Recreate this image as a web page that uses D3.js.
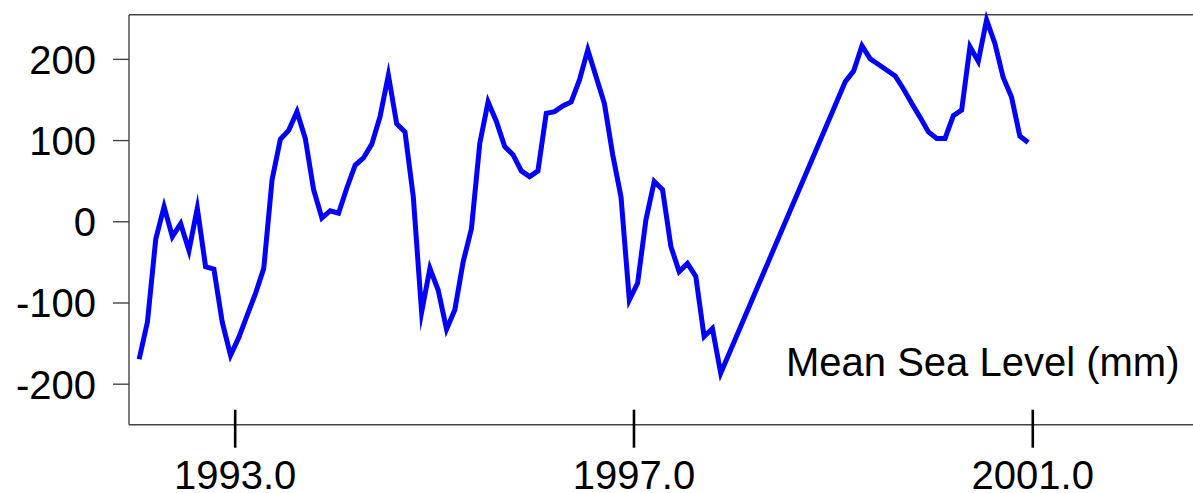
<!DOCTYPE html>
<html>
<head>
<meta charset="utf-8">
<script src="https://cdn.jsdelivr.net/npm/d3@7"></script>
<style>
  html, body { margin: 0; padding: 0; background: #fff; overflow: hidden; }
  svg { display: block; font-family: "Liberation Sans", Arial, sans-serif; }
</style>
</head>
<body>
<svg id="chart" width="1193" height="493"></svg>
<script>
// Month index (0 = Jan 1992) and mean sea level values (mm)
const monthIndex = [
  0,1,2,3,4,5,6,7,8,9,10,11,12,13,14,15,16,17,18,19,20,21,22,23,24,25,26,27,28,29,
  30,31,32,33,34,35,36,37,38,39,40,41,42,43,44,45,46,47,48,49,50,51,52,53,54,55,56,57,58,59,
  60,61,62,63,64,65,66,67,68,69,70,
  85,86,87,88,89,90,91,92,93,94,95,96,97,98,99,100,101,102,103,104,105,106,107
];
const seaLevel = [
  -170,-124,-22,18,-19,-3,-36,16,-56,-59,-124,-165,-143,-116,-89,-58,51,101,112,135,
  102,39,4,13,10,41,69,78,95,129,180,120,110,30,-112,-58,-85,-133,-109,-50,
  -9,96,147,123,92,82,62,55,62,133,135,142,147,174,211,178,145,82,30,-97,
  -76,2,49,39,-31,-62,-52,-68,-142,-132,-187,
  172,185,216,200,193,186,179,163,145,128,110,102,102,130,137,215,197,248,219,177,153,105,97
];
const yTicks = [-200, -100, 0, 100, 200];
const yTickLabels = ["-200", "-100", "0", "100", "200"];
const xTicks = [1993, 1997, 2001];
const xTickLabels = ["1993.0", "1997.0", "2001.0"];
const seriesLabel = "Mean Sea Level (mm)";

(function () {
const data = monthIndex.map((m, i) => ({ t: 1992 + (m + 0.5) / 12, v: seaLevel[i] }));

const svg = d3.select("#chart");
const pLeft = 129, pTop = 14.7, pBottom = 424.7, pxPerYear = 99.7;
const x = d3.scaleLinear().domain([1991.94, 2003]).range([pLeft, pLeft + (2003 - 1991.94) * pxPerYear]);
const y = d3.scaleLinear().domain([-250.5, 254.4]).range([pBottom, pTop]);

// frame (extends past right edge)
const frame = svg.append("g").attr("stroke", "#444").attr("stroke-width", 1.4).attr("fill", "none");
frame.append("line").attr("x1", pLeft).attr("x2", 1300).attr("y1", pTop).attr("y2", pTop);
frame.append("line").attr("x1", pLeft).attr("x2", 1300).attr("y1", pBottom).attr("y2", pBottom);
frame.append("line").attr("x1", pLeft).attr("x2", pLeft).attr("y1", pTop).attr("y2", pBottom);

// y axis
const yAxis = svg.append("g").attr("transform", `translate(${pLeft},0)`)
  .call(d3.axisLeft(y).tickValues(yTicks).tickSize(16).tickPadding(17)
    .tickFormat((d, i) => yTickLabels[i]));
yAxis.select(".domain").remove();
yAxis.selectAll(".tick line").attr("stroke", "#444").attr("stroke-width", 1.4);
yAxis.selectAll(".tick text").attr("font-size", 40).attr("fill", "#000")
  .attr("font-family", "'Liberation Sans', Arial, sans-serif").attr("dy", "0.36em");

// x axis
const xAxis = svg.append("g").attr("transform", `translate(0,${pBottom})`)
  .call(d3.axisBottom(x).tickValues(xTicks).tickSize(0).tickPadding(0)
    .tickFormat((d, i) => xTickLabels[i]));
xAxis.select(".domain").remove();
xAxis.selectAll(".tick").append("line")
  .attr("y1", -15).attr("y2", 23).attr("stroke", "#000").attr("stroke-width", 2.6);
xAxis.selectAll(".tick text").attr("font-size", 40).attr("fill", "#000")
  .attr("font-family", "'Liberation Sans', Arial, sans-serif")
  .attr("dy", null).attr("y", 64);

// series
const line = d3.line().x(d => x(d.t)).y(d => y(d.v));
svg.append("path").datum(data)
  .attr("d", line)
  .attr("fill", "none")
  .attr("stroke", "#0000ff")
  .attr("stroke-width", 5)
  .attr("stroke-linejoin", "miter")
  .attr("stroke-miterlimit", 10)
  .attr("stroke-linecap", "butt");

// label
svg.append("text")
  .attr("x", 786).attr("y", 376)
  .attr("font-size", 40).attr("fill", "#000")
  .text(seriesLabel);
})();
</script>
</body>
</html>
